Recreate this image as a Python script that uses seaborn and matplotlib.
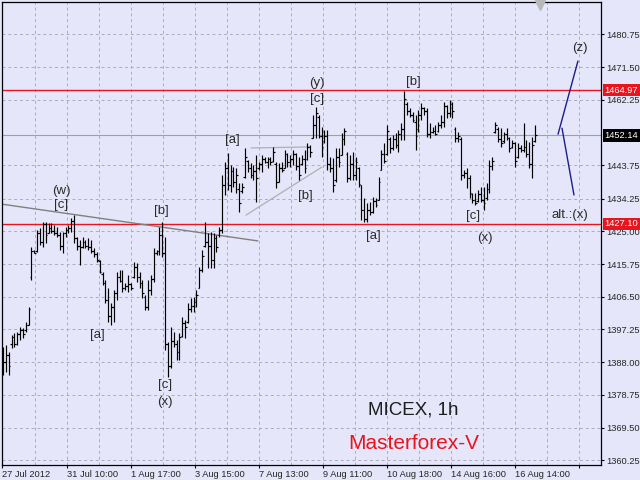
import numpy as np
import pandas as pd
import matplotlib
matplotlib.use('Agg')
import matplotlib.pyplot as plt
import matplotlib.transforms as mtransforms
import seaborn as sns

# hourly bars, MICEX 27 Jul - 16 Aug 2012
highs = [1392.3, 1392.8, 1390.8, 1395.7, 1396.2, 1396.5, 1397.9, 1397.6, 1399.3, 1403.6,
         1420.6, 1419.7, 1425.4, 1425.9, 1427.6, 1427.6, 1427.3, 1427.3, 1426.8, 1426.2,
         1424.8, 1424.8, 1426.2, 1426.8, 1428.8, 1429.6, 1423.4, 1422.5, 1423.4, 1422.5,
         1423.1, 1422.5, 1420.3, 1419.1, 1416.9, 1413.5, 1411.2, 1408.9, 1404.7, 1408.4,
         1413.5, 1414.0,
         1414.0, 1410.4, 1412.6, 1410.4, 1416.3, 1416.0, 1413.5, 1411.2, 1407.0, 1411.2,
         1412.6, 1420.3, 1419.7, 1426.2, 1427.6, 1423.4, 1393.7, 1397.9, 1396.5, 1394.2,
         1396.2, 1400.7, 1399.9, 1404.7, 1406.1, 1406.4, 1408.4, 1414.9, 1419.7, 1427.6,
         1424.5,
         1424.8, 1424.5, 1424.0, 1426.2, 1440.9, 1444.6, 1447.2, 1443.8, 1443.2, 1442.9,
         1438.7, 1438.7, 1448.6, 1445.2, 1444.3, 1443.8, 1446.6, 1444.6, 1446.6, 1446.0,
         1446.0, 1446.0, 1448.9, 1444.6, 1444.3, 1444.6, 1448.0, 1447.2, 1446.6, 1448.0,
         1447.2, 1446.0, 1446.6, 1448.0, 1450.0, 1449.4,
         1457.9, 1460.2, 1457.9, 1454.5, 1453.7, 1453.7, 1446.0, 1445.7, 1448.6, 1448.6,
         1452.8, 1454.2, 1447.4, 1446.6, 1447.4, 1446.0, 1443.2, 1438.1, 1434.4, 1433.0,
         1433.3, 1434.7, 1434.4, 1440.4, 1448.0, 1450.0, 1455.1, 1451.7, 1452.3, 1452.8,
         1453.7, 1455.7, 1464.8, 1461.6, 1459.9, 1458.8, 1457.9,
         1459.3, 1461.3, 1460.2, 1459.9, 1455.7, 1454.5, 1455.1, 1455.9, 1457.9, 1461.6,
         1460.7, 1462.2, 1461.6, 1454.5, 1453.1, 1451.7, 1442.3, 1442.9, 1440.9, 1435.8,
         1435.8, 1436.7, 1437.5, 1437.5, 1438.7, 1445.2, 1446.0, 1455.9, 1454.5, 1454.2,
         1453.1, 1454.2, 1451.7, 1450.8, 1450.3, 1450.0, 1449.4, 1455.7, 1450.8, 1450.3,
         1451.7, 1455.1]
lows = [1384.3, 1385.2, 1384.3, 1392.0, 1392.3, 1392.8, 1394.2, 1394.8, 1396.5, 1398.5,
        1411.2, 1418.9, 1419.1, 1421.1, 1420.6, 1421.7, 1424.5, 1424.5, 1424.0, 1423.4,
        1419.7, 1418.9, 1423.4, 1424.5, 1424.8, 1421.7, 1419.7, 1415.5, 1420.3, 1420.3,
        1419.7, 1418.9, 1417.7, 1416.3, 1413.2, 1409.8, 1404.7, 1399.3, 1398.5, 1399.3,
        1405.5, 1410.6,
        1407.8, 1408.4, 1407.8, 1408.4, 1411.8, 1410.6, 1409.0, 1406.1, 1402.7, 1402.7,
        1407.0, 1410.6, 1418.3, 1418.3, 1417.7, 1391.4, 1383.8, 1386.3, 1392.3, 1388.6,
        1388.6, 1395.1, 1394.8, 1399.1, 1402.2, 1402.2, 1403.6, 1408.9, 1413.5, 1420.6,
        1414.6,
        1414.6, 1414.6, 1419.1, 1423.4, 1424.5, 1435.3, 1436.7, 1436.1, 1437.5, 1435.8,
        1430.5, 1435.8, 1440.1, 1441.8, 1440.1, 1439.5, 1433.3, 1442.3, 1441.8, 1444.3,
        1442.9, 1443.8, 1444.6, 1437.3, 1438.9, 1441.8, 1442.9, 1443.2, 1443.2, 1443.8,
        1442.3, 1439.5, 1443.8, 1441.5, 1445.2, 1446.0,
        1451.4, 1451.4, 1451.4, 1446.0, 1450.0, 1442.3, 1441.8, 1436.1, 1439.0, 1443.2,
        1446.6, 1449.4, 1439.0, 1439.5, 1439.5, 1439.5, 1437.5, 1428.2, 1427.6, 1427.6,
        1429.6, 1430.2, 1431.9, 1433.9, 1442.3, 1444.3, 1446.6, 1447.2, 1448.0, 1448.6,
        1447.4, 1450.8, 1450.8, 1457.9, 1457.4, 1456.0, 1448.0,
        1453.1, 1456.5, 1457.9, 1451.7, 1451.4, 1452.8, 1452.3, 1453.1, 1454.2, 1454.5,
        1457.1, 1457.4, 1457.1, 1450.3, 1450.3, 1439.5, 1440.1, 1437.3, 1434.4, 1433.0,
        1432.4, 1433.3, 1433.3, 1431.0, 1433.9, 1435.8, 1442.3, 1452.8, 1450.3, 1448.9,
        1450.0, 1450.8, 1447.4, 1448.6, 1443.2, 1445.7, 1447.4, 1447.4, 1446.0, 1442.9,
        1440.1, 1450.3]
opens = [1385.0, 1388.0, 1390.0, 1393.0, 1395.0, 1393.0, 1396.0, 1397.0, 1397.0, 1398.5,
         1412.0, 1419.5, 1419.5, 1424.5, 1422.0, 1427.0, 1424.5, 1426.0, 1425.0, 1424.5,
         1424.0, 1421.0, 1424.5, 1425.5, 1426.0, 1428.0, 1423.0, 1421.0, 1420.5, 1422.0,
         1421.0, 1420.5, 1419.5, 1418.5, 1416.5, 1413.0, 1410.5, 1405.5, 1401.0, 1403.5,
         1407.5, 1412.0,
         1411.0, 1409.0, 1409.5, 1410.0, 1412.0, 1415.0, 1412.0, 1410.5, 1406.5, 1403.5,
         1408.5, 1411.5, 1419.0, 1419.5, 1424.0, 1419.0, 1393.0, 1387.0, 1394.0, 1393.0,
         1391.0, 1395.5, 1399.0, 1399.5, 1403.0, 1404.0, 1405.0, 1409.0, 1414.0, 1421.0,
         1422.0,
         1421.0, 1417.0, 1423.0, 1424.0, 1425.5, 1438.0, 1443.0, 1438.0, 1442.0, 1439.0,
         1437.0, 1436.5, 1440.5, 1445.0, 1443.0, 1441.0, 1442.0, 1443.0, 1444.0, 1445.5,
         1444.5, 1445.5, 1445.0, 1444.0, 1439.0, 1443.0, 1443.0, 1447.0, 1444.5, 1445.5,
         1447.0, 1443.5, 1444.0, 1445.5, 1445.5, 1449.0,
         1451.5, 1455.0, 1457.5, 1452.0, 1450.5, 1452.0, 1444.0, 1443.0, 1439.5, 1446.0,
         1446.5, 1451.0, 1447.0, 1440.0, 1444.0, 1441.0, 1443.0, 1438.0, 1431.0, 1428.5,
         1431.0, 1430.5, 1433.5, 1434.0, 1442.5, 1447.0, 1447.0, 1451.0, 1448.5, 1451.0,
         1449.5, 1452.5, 1454.0, 1461.0, 1459.0, 1458.0, 1456.0,
         1454.0, 1458.0, 1460.0, 1459.0, 1452.5, 1453.0, 1453.5, 1453.5, 1455.0, 1456.0,
         1460.5, 1458.5, 1461.0, 1454.0, 1451.5, 1451.0, 1441.0, 1441.5, 1440.0, 1435.5,
         1434.0, 1433.5, 1435.5, 1434.0, 1434.5, 1437.0, 1443.5, 1453.0, 1454.0, 1451.0,
         1450.5, 1452.5, 1451.5, 1449.0, 1450.0, 1446.0, 1448.5, 1448.0, 1449.0, 1447.0,
         1444.0, 1450.5]
closes = [1388.0, 1390.0, 1387.0, 1395.0, 1393.0, 1396.0, 1397.0, 1396.0, 1398.5, 1403.0,
          1419.5, 1419.0, 1424.5, 1422.0, 1427.0, 1424.0, 1426.0, 1425.0, 1424.5, 1424.0,
          1421.0, 1424.5, 1425.5, 1426.0, 1428.0, 1423.0, 1421.0, 1420.5, 1422.0, 1421.0,
          1420.5, 1419.5, 1418.5, 1417.0, 1413.5, 1410.5, 1405.5, 1401.0, 1403.5, 1407.5,
          1412.0, 1411.0,
          1409.0, 1409.5, 1410.0, 1409.0, 1415.0, 1412.0, 1410.5, 1407.5, 1403.5, 1408.5,
          1411.5, 1419.0, 1419.5, 1424.0, 1419.0, 1393.0, 1387.0, 1394.0, 1393.0, 1391.0,
          1395.0, 1399.0, 1398.0, 1403.0, 1404.0, 1405.0, 1407.0, 1414.0, 1418.0, 1422.0,
          1421.0,
          1417.0, 1423.0, 1420.5, 1425.5, 1438.0, 1443.0, 1438.0, 1442.0, 1439.0, 1441.0,
          1433.0, 1437.5, 1446.0, 1443.0, 1441.0, 1442.0, 1440.0, 1444.0, 1445.5, 1444.5,
          1445.5, 1444.5, 1447.5, 1439.0, 1443.0, 1442.5, 1447.0, 1444.5, 1445.5, 1447.0,
          1443.5, 1441.0, 1445.5, 1443.0, 1449.0, 1447.5,
          1455.0, 1458.5, 1452.0, 1449.0, 1452.0, 1444.0, 1443.0, 1438.0, 1446.0, 1444.5,
          1451.0, 1453.5, 1440.0, 1444.0, 1441.0, 1444.5, 1438.5, 1431.0, 1428.5, 1431.0,
          1430.5, 1433.5, 1432.5, 1439.0, 1447.0, 1445.0, 1453.5, 1448.5, 1451.0, 1449.5,
          1452.5, 1454.0, 1462.5, 1459.0, 1458.0, 1456.5, 1452.0,
          1458.0, 1460.0, 1459.0, 1452.5, 1453.0, 1453.5, 1452.5, 1455.0, 1456.0, 1460.5,
          1458.5, 1461.0, 1459.0, 1451.5, 1452.0, 1441.0, 1441.5, 1440.0, 1436.0, 1434.0,
          1433.0, 1435.5, 1434.0, 1433.0, 1437.0, 1443.5, 1445.0, 1455.0, 1451.0, 1450.0,
          1452.5, 1451.5, 1448.5, 1450.0, 1445.0, 1448.5, 1448.0, 1449.0, 1447.0, 1444.0,
          1449.5, 1452.14]

date_labels = ['27 Jul 2012', '31 Jul 10:00', '1 Aug 17:00', '3 Aug 15:00', '7 Aug 13:00',
               '9 Aug 11:00', '10 Aug 18:00', '14 Aug 16:00', '16 Aug 14:00', '']
price_ticks = [1480.75, 1471.50, 1462.25, 1443.75, 1434.25, 1425.00, 1415.75,
               1406.50, 1397.25, 1388.00, 1378.75, 1369.50, 1360.25]
levels = [1464.97, 1427.10]
last_price = 1452.14

# wave counts: text, bar number, price
wave_text = ['(w)', '[c]', '[a]', '[b]', '[c]', '(x)', '[a]', '[b]', '(y)', '[c]',
             '[a]', '[b]', '[c]', '(x)', 'alt.:(x)', '(z)']
wave_bar = [20.4, 20.4, 33.0, 55.5, 56.9, 56.9, 80.8, 106.2, 110.4, 110.4,
            130.1, 144.1, 165.2, 169.4, 199.3, 202.8]
wave_price = [1436.4, 1432.5, 1395.6, 1430.8, 1381.5, 1376.7, 1450.8, 1435.0, 1467.0, 1462.4,
              1423.7, 1467.3, 1429.3, 1423.1, 1429.6, 1476.9]

# drawn lines: bar numbers and prices of the end points
trend_bar = [-0.35, 89.6]
trend_price = [1432.7, 1422.3]
tri_bar = [85.4, 112.1, 87.2, 107.9]
tri_price = [1429.6, 1443.2, 1448.6, 1448.9]
tri_leg = ['low', 'low', 'top', 'top']
proj_bar = [195.1, 202.1, 196.5, 200.7]
proj_price = [1452.5, 1473.2, 1454.2, 1435.3]
proj_leg = ['up', 'up', 'down', 'down']

bg = '#e6e6fa'
sns.set_theme(style='white', rc={'axes.facecolor': bg, 'figure.facecolor': bg})
plt.rcParams['font.family'] = ['Liberation Sans', 'DejaVu Sans']

bars = pd.DataFrame({'high': highs, 'low': lows, 'open': opens, 'close': closes})
bars['x'] = np.arange(len(bars))

fig = plt.figure(figsize=(6.4, 4.8), dpi=100)
ax = fig.add_axes([2 / 640, 15 / 480, 599 / 640, 463 / 480])
ax.set_xlim(-0.35, 210.2)
ax.set_ylim(1358.9, 1489.9)

# grid
step = 11.26
grid_x = np.arange(-0.18, 210, step)
major_x = grid_x[::2]
ax.set_xticks(major_x)
ax.set_xticks(grid_x[1::2], minor=True)
ax.set_xticklabels(date_labels[:len(major_x)], fontsize=6.7, ha='left')
ax.set_yticks(price_ticks)
ax.set_yticklabels([f'{p:.2f}' for p in price_ticks], fontsize=6.7)
ax.yaxis.tick_right()
ax.tick_params(axis='x', which='major', length=2.5, width=0.8, pad=1, color='black', bottom=True)
ax.tick_params(axis='x', which='minor', length=0)
ax.tick_params(axis='y', length=2.5, width=0.8, pad=1.5, color='black', right=True, left=False)
ax.set_axisbelow(True)
ax.grid(True, which='both', axis='x', color='#acacbc', lw=0.7, ls=(0, (3, 3)))
ax.grid(True, which='major', axis='y', color='#acacbc', lw=0.7, ls=(0, (3, 3)))
for s in ax.spines.values():
    s.set_color('black')
    s.set_linewidth(0.9)

# support / resistance and last price lines
for lv in levels:
    ax.axhline(lv, color='#e8141e', lw=1.0, zorder=1)
ax.axhline(last_price, color='#a0a0a0', lw=0.8, zorder=1)

# OHLC bars
ax.vlines(bars['x'], bars['low'], bars['high'], color='black', lw=0.85, zorder=3)
ax.hlines(bars['open'], bars['x'] - 0.6, bars['x'], color='black', lw=0.85, zorder=3)
ax.hlines(bars['close'], bars['x'], bars['x'] + 0.6, color='black', lw=0.85, zorder=3)

# trend lines and projections
sns.lineplot(x=trend_bar, y=trend_price, color='#808080', lw=1.0, ax=ax, zorder=2)
tri = pd.DataFrame({'bar': tri_bar, 'price': tri_price, 'leg': tri_leg})
sns.lineplot(data=tri, x='bar', y='price', units='leg', estimator=None, sort=False,
             color='#b0b0b0', lw=0.9, ax=ax, zorder=2)
proj = pd.DataFrame({'bar': proj_bar, 'price': proj_price, 'leg': proj_leg})
sns.lineplot(data=proj, x='bar', y='price', units='leg', estimator=None, sort=False,
             color='#1c1c8c', lw=1.0, ax=ax, zorder=2)
ax.set_xlabel('')
ax.set_ylabel('')

# chart shift marker
ax.plot([188.8], [1489.0], marker='v', ms=7, color='#b8b8b8', clip_on=False, zorder=4)

for t, b, p in zip(wave_text, wave_bar, wave_price):
    ax.text(b, p, t, fontsize=9.5, color='#2a2a2a', ha='center', va='center', zorder=4)

ax.text(144.1, 1374.4, 'MICEX, 1h', fontsize=13.5, color='#1e1e1e', ha='center', va='center')
ax.text(144.5, 1365.1, 'Masterforex-V', fontsize=15, color='#e8141e', ha='center', va='center')

# price boxes on the right scale
trans = mtransforms.blended_transform_factory(ax.transAxes, ax.transData)
box_x = 1.0 + 3.5 / 599
for lv in levels:
    ax.text(box_x, lv, f'{lv:.2f}', transform=trans, fontsize=6.7, color='white',
            ha='left', va='center', clip_on=False, zorder=6,
            bbox=dict(boxstyle='square,pad=0.2', fc='#e8141e', ec='none'))
ax.text(box_x, last_price, f'{last_price:.2f}', transform=trans, fontsize=6.7, color='white',
        ha='left', va='center', clip_on=False, zorder=6,
        bbox=dict(boxstyle='square,pad=0.2', fc='black', ec='none'))

fig.savefig('out.png', dpi=100, facecolor=bg)
